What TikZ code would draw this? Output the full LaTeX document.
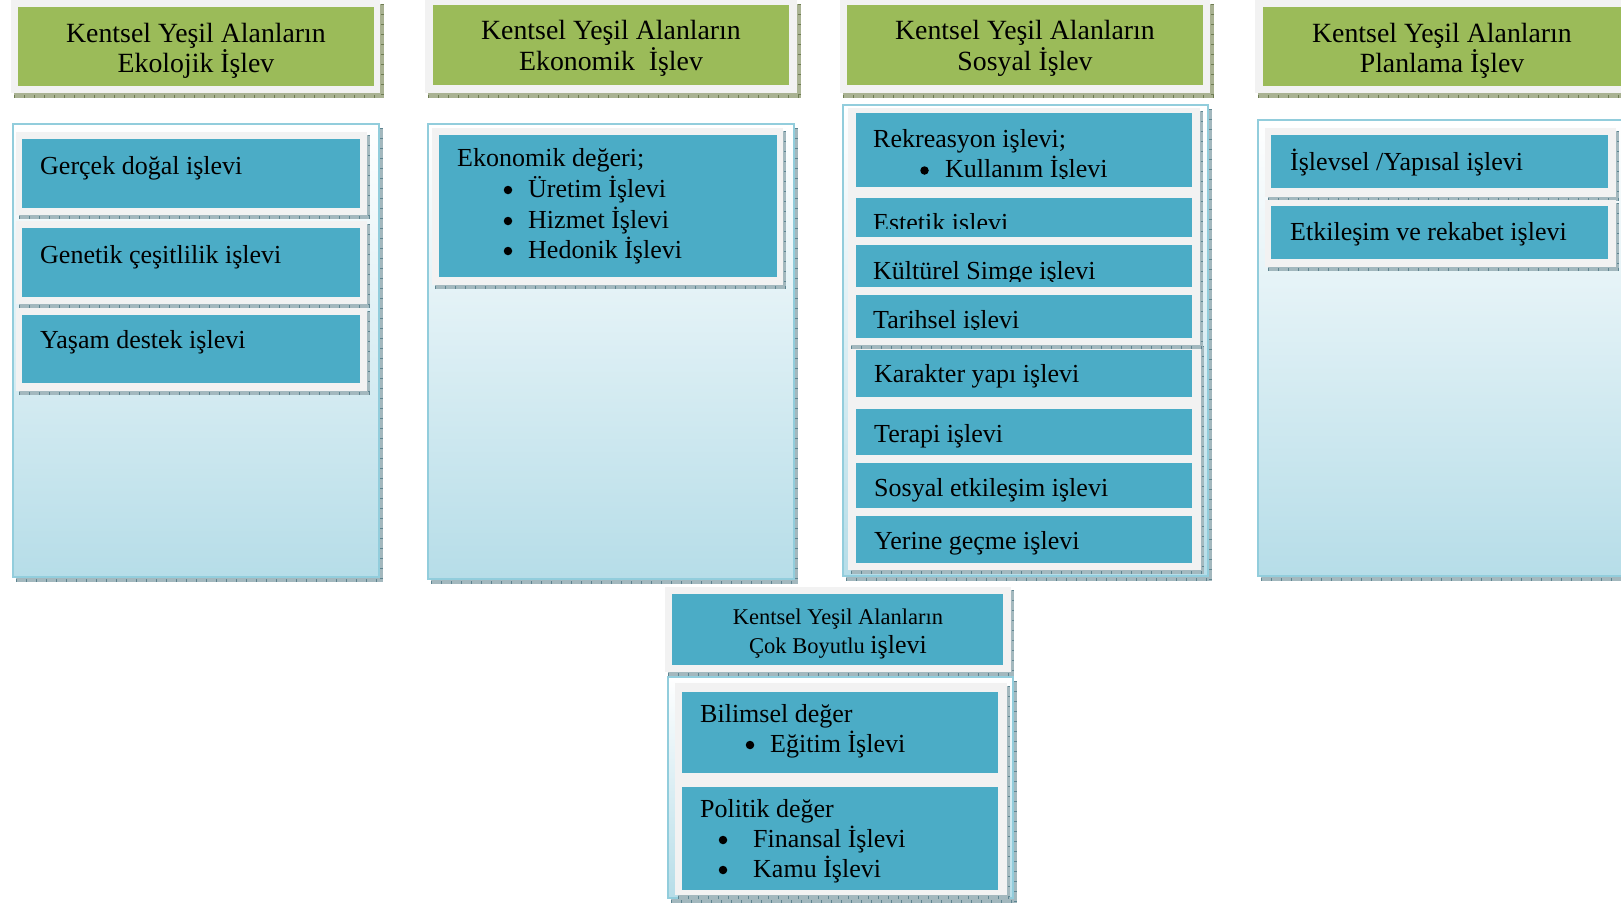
\documentclass[tikz,border=0pt]{standalone}
\usepackage{fontspec}
\setmainfont{Liberation Serif}
\definecolor{hdrgreen}{HTML}{9BBB59}
\definecolor{itemblue}{HTML}{4BACC6}
\definecolor{framegrey}{HTML}{F2F2F2}
\definecolor{paneledge}{HTML}{92CDDC}
\definecolor{panelfill}{HTML}{B6DDE8}
\definecolor{hdrshade}{HTML}{A9B292}
\definecolor{hdrtick}{HTML}{6F7D52}
\definecolor{boxshade}{HTML}{A3B8BE}
\definecolor{boxtick}{HTML}{5E8591}
\tikzset{
  hdrbox/.style={fill=hdrgreen},
  framebox/.style={fill=framegrey},
  itembox/.style={fill=itemblue},
  panelbox/.style={top color=white, bottom color=panelfill, draw=paneledge, line width=2.5pt},
  ticks/.style={draw=boxtick, line width=3pt, dash pattern=on 1pt off 9pt},
  lbl/.style={anchor=base west, inner sep=0pt, font=\fontsize{26}{30}\selectfont},
  bulletdot/.style={circle, fill=black, inner sep=0pt, minimum size=8.5pt},
  hdrlbl/.style={anchor=base, inner sep=0pt, font=\fontsize{27.8}{30}\selectfont},
}

\begin{document}
\begin{tikzpicture}[x=1pt, y=-1pt]
                  \useasboundingbox (0,0) rectangle (1621,903);

                  % headers
                  \foreach \xa/\xb in {11/380, 425/797, 840/1210, 1255/1640} {
                  \fill[hdrshade] (\xa+3,4) rectangle (\xb+4,98);
                  \draw[ticks, draw=hdrtick] (\xa+3,96) -- (\xb+4,96);
                  \draw[ticks, draw=hdrtick] (\xb+2.5,4) -- (\xb+2.5,98);
                  \fill[framebox] (\xa,0) rectangle (\xb,93);
                  }
                  \foreach \xa/\ya/\xb/\yb in {18/7/374/86, 433/5/789/85, 847/5/1203/85, 1263/7/1640/86}
                  \fill[hdrbox] (\xa,\ya) rectangle (\xb,\yb);

                  % panels
                  \foreach \xa/\ya/\xb/\yb in {13/124/379/577, 428/124/794/579, 843/105/1208/576, 1258/120/1640/576, 668/677/1013/898} {
                  \fill[boxshade] (\xa+3,\ya+4) rectangle (\xb+4,\yb+5);
                  \draw[ticks] (\xa+3,\yb+3) -- (\xb+4,\yb+3);
                  \draw[ticks] (\xb+2.5,\ya+4) -- (\xb+2.5,\yb+5);
                  \shade[panelbox] (\xa,\ya) rectangle (\xb,\yb);
                  }

                  % white frames
                  \foreach \xa/\ya/\xb/\yb in {16/132/367/215, 16/221/367/304, 16/308/367/391, 432/128/783/285,
                    848/343/1201/570, 848/108/1200/345, 1265/128/1616/197, 1265/200/1616/267,
                    665/587/1011/672, 675/683/1007/895} {
                  \fill[boxshade] (\xa+3,\ya+3) rectangle (\xb+3,\yb+4);
                  \draw[ticks] (\xa+3,\yb+2.5) -- (\xb+3,\yb+2.5);
                  \draw[ticks, line width=2pt] (\xb+2,\ya+3) -- (\xb+2,\yb+4);
                  \fill[framebox] (\xa,\ya) rectangle (\xb,\yb);
                  }

                  % blue boxes
                  \foreach \xa/\ya/\xb/\yb in {22/139/360/208, 22/228/360/297, 22/315/360/383, 439/135/777/277,
                    856/113/1192/187, 856/198/1192/237, 856/245/1192/287, 856/295/1192/338,
                    856/350/1192/397, 856/409/1192/455, 856/463/1192/508, 856/516/1192/563,
                    1271/135/1608/188, 1271/206/1608/259, 672/594/1003/665, 682/692/998/773, 682/787/998/890}
                  \fill[itembox] (\xa,\ya) rectangle (\xb,\yb);

                  % header texts
                  \node[hdrlbl] (ekoa) at (196,42) {Kentsel Yeşil Alanların};
                  \node[hdrlbl] (ekob) at (196,72) {Ekolojik İşlev};
                  \node[hdrlbl] (ekna) at (611,39) {Kentsel Yeşil Alanların};
                  \node[hdrlbl] (eknb) at (611,70) {Ekonomik\ \ İşlev};
                  \node[hdrlbl] (sosa) at (1025,39) {Kentsel Yeşil Alanların};
                  \node[hdrlbl] (sosb) at (1025,70) {Sosyal İşlev};
                  \node[hdrlbl] (plna) at (1442,42) {Kentsel Yeşil Alanların};
                  \node[hdrlbl] (plnb) at (1442,72) {Planlama İşlev};
                  \node[hdrlbl, font=\fontsize{22.5}{26}\selectfont] (coka) at (838,624) {Kentsel Yeşil Alanların};
                  \node[hdrlbl, font=\fontsize{22.5}{26}\selectfont] (cokb) at (838,653) {Çok Boyutlu {\fontsize{26}{30}\selectfont işlevi}};

                  % ekolojik
                  \node[lbl] (dogal) at (40,174) {Gerçek doğal işlevi};
                  \node[lbl] (genetik) at (40,263) {Genetik çeşitlilik işlevi};
                  \node[lbl] (yasam) at (40,348) {Yaşam destek işlevi};

                  % ekonomik
                  \node[lbl] (ekdeger) at (457,166) {Ekonomik değeri;};
                  \foreach \y/\name/\txt in {197/uretim/Üretim İşlevi, 228/hizmet/Hizmet İşlevi, 258/hedonik/Hedonik İşlevi} {
                  \node[bulletdot] (\name dot) at (508,\y-7) {};
                  \node[lbl] (\name) at (528,\y) {\txt};
                  }

                  % sosyal
                  \node[lbl] (rekr) at (873,147) {Rekreasyon işlevi;};
                  \node[bulletdot] (kulldot) at (924.5,170.5) {};
                  \begin{scope}
                  \clip (856,150) rectangle (1192,178);
                  \node[lbl] (kull) at (945,177) {Kullanım İşlevi};
                  \end{scope}
                  \begin{scope}
                  \clip (856,198) rectangle (1192,228);
                  \node[lbl] (estetik) at (873,231) {Estetik işlevi};
                  \end{scope}
                  \begin{scope}
                  \clip (856,245) rectangle (1192,281.5);
                  \node[lbl] (kultur) at (873,279) {Kültürel Simge işlevi};
                  \end{scope}
                  \begin{scope}
                  \clip (856,295) rectangle (1192,329);
                  \node[lbl] (tarih) at (873,328) {Tarihsel işlevi};
                  \end{scope}
                  \node[lbl] (karakter) at (874,382) {Karakter yapı işlevi};
                  \node[lbl] (terapi) at (874,442) {Terapi işlevi};
                  \node[lbl] (etkilesim) at (874,496) {Sosyal etkileşim işlevi};
                  \node[lbl] (yerine) at (874,549) {Yerine geçme işlevi};

                  % planlama
                  \node[lbl] (yapisal) at (1290,170) {İşlevsel /Yapısal işlevi};
                  \node[lbl] (rekabet) at (1290,240) {Etkileşim ve rekabet işlevi};

                  % cok boyutlu
                  \node[lbl] (bilimsel) at (700,722) {Bilimsel değer};
                  \node[bulletdot] (egitimdot) at (750,745) {};
                  \node[lbl] (egitim) at (770,752) {Eğitim İşlevi};
                  \node[lbl] (politik) at (700,817) {Politik değer};
                  \foreach \y/\name/\txt in {847/finans/Finansal İşlevi, 877/kamu/Kamu İşlevi} {
                  \node[bulletdot] (\name dot) at (723,\y-7) {};
                  \node[lbl] (\name) at (753,\y) {\txt};
                  }
              \end{tikzpicture}
\end{document}
